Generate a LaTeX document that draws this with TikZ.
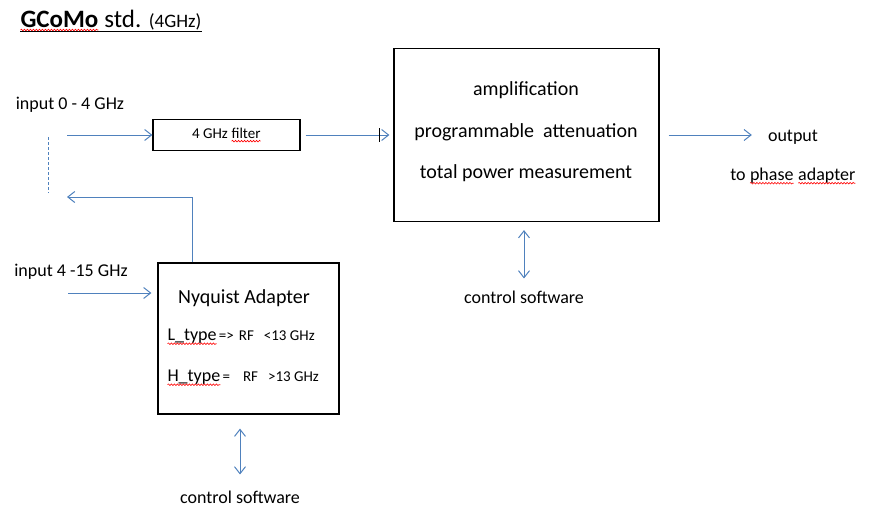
\documentclass[tikz,border=0pt]{standalone}
\usepackage{fontspec}
\setmainfont{Carlito}
\usetikzlibrary{arrows.meta, positioning, decorations.pathmorphing}

\definecolor{linkblue}{RGB}{79,129,189}

\tikzset{squiggle/.style={draw=red, line width=0.6pt, decorate, decoration={snake, amplitude=0.8pt, segment length=3pt}}}
\newcommand{\spell}[1]{\tikz[baseline=(w.base), x=1pt, y=1pt]{\node[draw=none, inner sep=0pt, outer sep=0pt, minimum width=0pt, minimum height=0pt] (w) {#1}; \draw[squiggle] ([yshift=-3pt]w.base west) -- ([yshift=-3pt]w.base east);}}

\begin{document}
\begin{tikzpicture}[x=1pt, y=-1pt,
    box/.style={draw, line width=1.2pt, inner sep=0pt},
    flow/.style={draw=linkblue, line width=1pt, -{Straight Barb[length=7pt,width=11pt]}},
    both/.style={draw=linkblue, line width=1pt, {Straight Barb[length=7pt,width=11pt]}-{Straight Barb[length=7pt,width=11pt]}},
    txt/.style={font=\fontsize{18}{22}\selectfont, inner sep=0pt},
    big/.style={font=\fontsize{20}{24}\selectfont, inner sep=0pt},
    small/.style={font=\fontsize{15}{18}\selectfont, inner sep=0pt}]

    \useasboundingbox (0,0) rectangle (870,509);

    % title
    \node[anchor=base west, inner sep=0pt] (title) at (20,27) {\fontsize{25}{30}\selectfont\textbf{\spell{GCoMo}} std. \fontsize{19}{23}\selectfont(4GHz)};
    \draw[line width=1.2pt] (title.south west) -- (title.south east);

    % inputs
    \node[txt] (in1) at (70,105) {input 0 - 4 GHz};
    \node[txt] (in2) at (71,272) {input 4 -15 GHz};
    \coordinate (in1start) at (67,135);
    \coordinate (in2start) at (68,293);
    \coordinate (dashtop) at (48,137);
    \coordinate (dashbot) at (48,193);
    \coordinate (retend) at (67,197);

    % blocks
    \node[box, minimum width=147pt, minimum height=31pt, font=\fontsize{15}{18}\selectfont] (filter) at (226.5,135) {4 GHz \spell{filter}};
    \node[box, minimum width=265pt, minimum height=173pt] (main) at (526.5,135) {};
    \node[big] (amp) at (526,90) {amplification};
    \node[big] (att) at (526,132) {programmable\ \ attenuation};
    \node[big] (tpm) at (526,173) {total power measurement};

    \node[box, minimum width=181pt, minimum height=151pt] (nyq) at (248.5,338.5) {};
    \node[big, anchor=west] (nyqname) at (178,298) {Nyquist Adapter};
    \node[txt, anchor=west] (ltype) at (167,337) {\spell{L\_type}\hspace{2pt}{\fontsize{15}{18}\selectfont=>\hspace{5pt}RF\hspace{10pt}<13 GHz}};
    \node[txt, anchor=west] (htype) at (167,378) {\spell{H\_type}\hspace{2pt}{\fontsize{15}{18}\selectfont=\hspace{13pt}RF\hspace{10pt}>13 GHz}};

    % outputs
    \node[txt] (out) at (793,137) {output};
    \node[txt] (phase) at (793,176) {to \spell{phase} \spell{adapter}};
    \node[txt] (ctl1) at (524,297) {control software};
    \node[txt] (ctl2) at (240,497) {control software};

    % connections
    \draw[draw=linkblue, line width=0.8pt, dash pattern=on 3pt off 2pt] (dashtop) -- (dashbot);
    \draw[flow] (in1start) -- (in1start -| filter.west);
    \draw[flow, shorten <=5pt, shorten >=4pt] (filter.east) -- (main.west);
    \draw[line width=1.2pt] ([xshift=-14pt]main.west) ++(0,-7) -- ++(0,14);
    \draw[flow, shorten <=9pt, shorten >=16pt] (main.east) -- (main.east -| out.west);
    \draw[both, shorten <=8pt, shorten >=12pt] (main.south -| ctl1) -- (ctl1.north);
    \draw[flow] ([xshift=-56pt]nyq.north) |- (retend);
    \draw[flow, shorten >=6pt] (in2start) -- (in2start -| nyq.west);
    \draw[both, shorten <=14pt, shorten >=16pt] (nyq.south -| ctl2) -- (ctl2.north);
\end{tikzpicture}
\end{document}
